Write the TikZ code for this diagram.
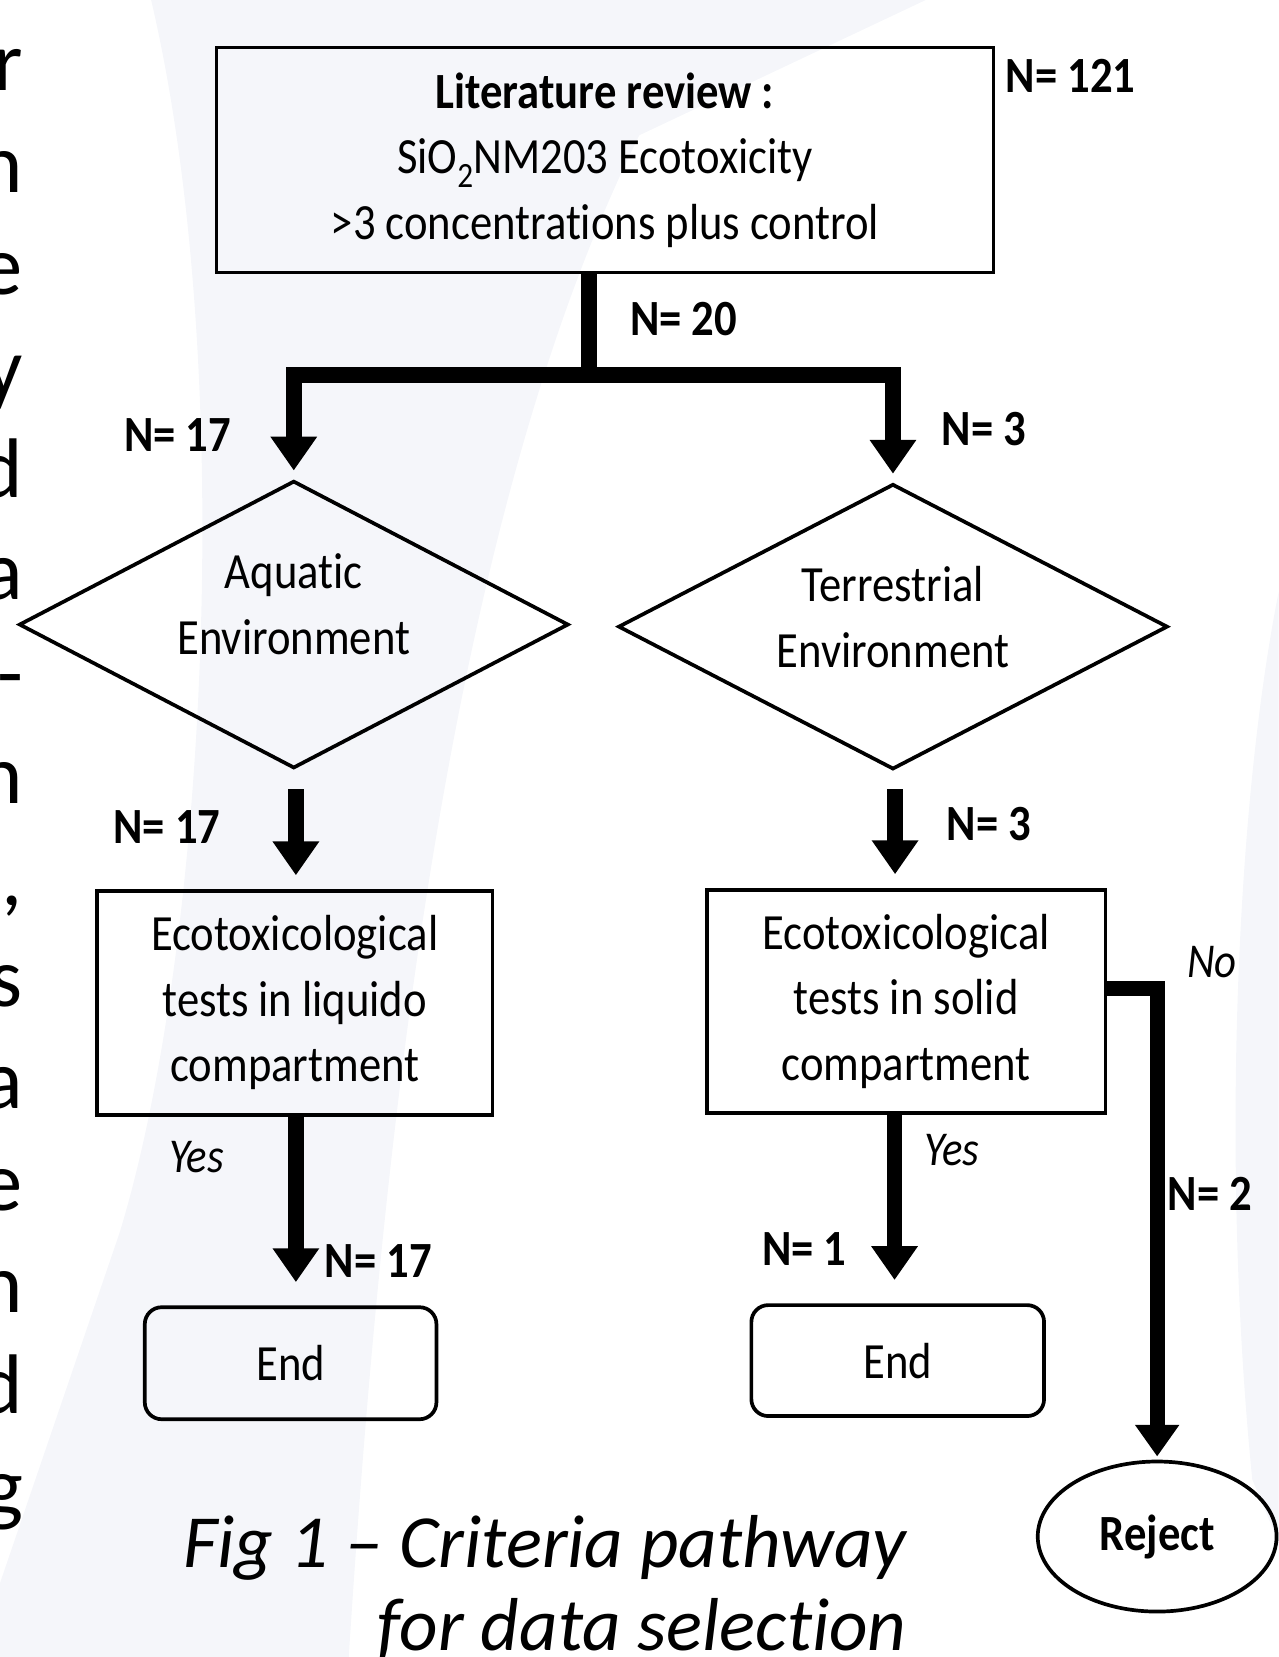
\documentclass[tikz,border=0pt]{standalone}
\usepackage{fontspec}
\setmainfont{Carlito}[Ligatures={NoCommon}]
\newfontfamily\dg{Carlito}[FakeStretch=0.88, Ligatures={NoCommon}]
\usetikzlibrary{shapes.geometric,arrows.meta}
\definecolor{bgc}{RGB}{245,246,250}
\begin{document}
\begin{tikzpicture}[x=1pt,y=-1pt,
  txt/.style={font=\dg\fontsize{48}{62}\selectfont, align=center, inner sep=0pt},
  lbl/.style={font=\dg\bfseries\fontsize{48}{62}\selectfont, inner sep=0pt},
  ilbl/.style={font=\dg\itshape\fontsize{46}{60}\selectfont, inner sep=0pt},
  box/.style={draw, line width=3.5pt, inner sep=0pt, txt},
  dia/.style={draw, diamond, line width=3.5pt, inner sep=0pt, aspect=1.9},
  endbox/.style={draw, line width=3.5pt, rounded corners=16pt, inner sep=0pt, txt},
  flow/.style={line width=15pt, line join=miter, -{Triangle[width=42pt,length=32pt]}},
  edge/.style={font=\fontsize{80}{96}\selectfont, anchor=base east, inner sep=0pt}
]
\useasboundingbox (0,0) rectangle (1210,1568);
% faint background shapes
\fill[bgc] (143,0) .. controls (225,350) and (195,900) .. (113,1167) -- (0,1498) -- (0,1568) -- (330,1568)
  .. controls (360,1100) and (420,500) .. (605,128) -- (876,0) -- cycle;
\fill[bgc] (1210,560) .. controls (1170,760) and (1155,1100) .. (1185,1400) -- (1210,1460) -- cycle;

% cut-off letters of the neighbouring text column
\foreach \c [count=\k from 0] in {r,n,e,y,d,a,-,n,{,},s,a,e,n,d,g}{
  \node[edge] (col\k) at (22,{86+96.3*\k}) {\c};
}

% nodes
\node[box, minimum width=735pt, minimum height=213pt] (top) at (572.5,151.5)
  {\textbf{Literature review :}\\SiO\textsubscript{2}NM203 Ecotoxicity\\>3 concentrations plus control};
\node[dia, minimum width=520pt, minimum height=272pt] (aq) at (278,591) {};
\node[txt] (aqt) at (278,572) {Aquatic\\Environment};
\node[dia, minimum width=520pt, minimum height=270pt] (te) at (845,593) {};
\node[txt] (tet) at (845,584) {Terrestrial\\Environment};
\node[box, minimum width=374pt, minimum height=212pt] (lbox) at (279,949)
  {Ecotoxicological\\tests in liquido\\compartment};
\node[box, minimum width=377pt, minimum height=211pt] (rbox) at (857.5,947.5)
  {Ecotoxicological\\tests in solid\\compartment};
\node[endbox, minimum width=276pt, minimum height=106pt] (lend) at (275,1290) {End};
\node[endbox, minimum width=277pt, minimum height=105pt] (rend) at (849.5,1287.5) {End};
\node[draw, ellipse, line width=3.5pt, minimum width=226pt, minimum height=142pt, inner sep=0pt,
  font=\dg\bfseries\fontsize{48}{62}\selectfont] (rej) at (1095,1454) {Reject};

% column coordinates for the vertical arrows
\coordinate (cl) at ([xshift=2pt]aq.south);
\coordinate (cr) at ([xshift=2pt]te.south);
\coordinate (cy) at ([xshift=-11pt]rbox.south);

% connectors
\draw[flow] ([xshift=-15.5pt]top.south) -- ++(0,95) coordinate (jn) -| ([yshift=8pt]aq.north);
\draw[flow] (jn) -| ([yshift=8pt]te.north);
\draw[flow, shorten <=18pt] (cl) -- ([yshift=13pt]lbox.north -| cl);
\draw[flow, shorten <=17pt] (cr) -- ([yshift=13pt]rbox.north -| cr);
\draw[flow] (lbox.south -| cl) -- ([yshift=22pt]lend.north -| cl);
\draw[flow] (cy) -- ([yshift=22pt]rend.north -| cy);
\draw[line width=14pt, line join=miter, -{Triangle[width=40pt,length=30pt]}]
  ([yshift=12pt]rbox.east) -| ([yshift=3pt]rej.north);

% labels
\node[lbl] (n121) at (1013,72) {N= 121};
\node[lbl] (n20) at (647,302) {N= 20};
\node[lbl] (n17a) at (168,412) {N= 17};
\node[lbl] (n3a) at (931,406) {N= 3};
\node[lbl] (n17b) at (158,783) {N= 17};
\node[lbl] (n3b) at (936,780) {N= 3};
\node[ilbl] (yes1) at (186,1095) {Yes};
\node[lbl] (n17c) at (358,1193) {N= 17};
\node[ilbl] (yes2) at (901,1088) {Yes};
\node[lbl] (n1) at (761,1182) {N= 1};
\node[ilbl] (no) at (1147,910) {No};
\node[lbl] (n2) at (1145,1130) {N= 2};

% caption
\node[font=\itshape\fontsize{71}{79}\selectfont, align=right, anchor=base east, inner sep=0pt] (cap)
  at (858,1562) {Fig 1 -- Criteria pathway\\for data selection};
\end{tikzpicture}
\end{document}
